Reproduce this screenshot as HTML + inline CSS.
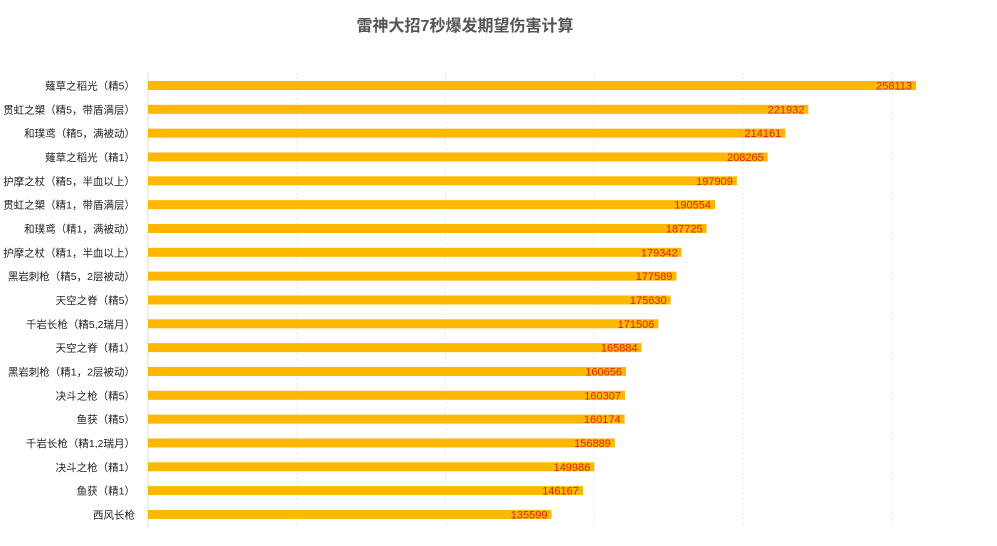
<!DOCTYPE html>
<html><head><meta charset="utf-8"><style>
body{margin:0;background:#fff;width:997px;height:541px;overflow:hidden;font-family:"Liberation Sans","Noto Sans CJK SC",sans-serif}
</style></head><body>
<svg width="997" height="541" xmlns="http://www.w3.org/2000/svg" font-family="Liberation Sans, Noto Sans CJK SC, sans-serif">
<text x="465" y="31" text-anchor="middle" font-size="16" font-weight="bold" fill="#555">雷神大招7秒爆发期望伤害计算</text>
<g stroke="#eeeeee" stroke-dasharray="3,2">
<line x1="297" y1="72" x2="297" y2="527"/><line x1="445.5" y1="72" x2="445.5" y2="527"/><line x1="594" y1="72" x2="594" y2="527"/><line x1="743" y1="72" x2="743" y2="527"/><line x1="892" y1="72" x2="892" y2="527"/>
</g>
<line x1="148" y1="72" x2="148" y2="527" stroke="#ddd"/>
<g id="b"></g>
</svg>
<script>
var d=[["薙草之稻光（精5）",258113],["贯虹之槊（精5，带盾满层）",221932],["和璞鸢（精5，满被动）",214161],["薙草之稻光（精1）",208265],["护摩之杖（精5，半血以上）",197909],["贯虹之槊（精1，带盾满层）",190554],["和璞鸢（精1，满被动）",187725],["护摩之杖（精1，半血以上）",179342],["黑岩刺枪（精5，2层被动）",177589],["天空之脊（精5）",175630],["千岩长枪（精5,2瑞月）",171506],["天空之脊（精1）",165884],["黑岩刺枪（精1，2层被动）",160656],["决斗之枪（精5）",160307],["鱼获（精5）",160174],["千岩长枪（精1,2瑞月）",156889],["决斗之枪（精1）",149986],["鱼获（精1）",146167],["西风长枪",135599]];
var g=document.getElementById('b'),s='',k=0.0029755;
d.forEach(function(r,i){var y=81+i*23.83,w=r[1]*k;
s+='<rect x="148" y="'+y+'" width="'+w+'" height="9" fill="#FFB800"/>';
s+='<text x="135" y="'+(y+8.5)+'" text-anchor="end" font-size="10.5" fill="#222">'+r[0]+'</text>';
s+='<text x="'+(148+w-4)+'" y="'+(y+8.5)+'" text-anchor="end" font-size="11" fill="#e02010">'+r[1]+'</text>';});
g.innerHTML=s;
</script>
</body></html>
